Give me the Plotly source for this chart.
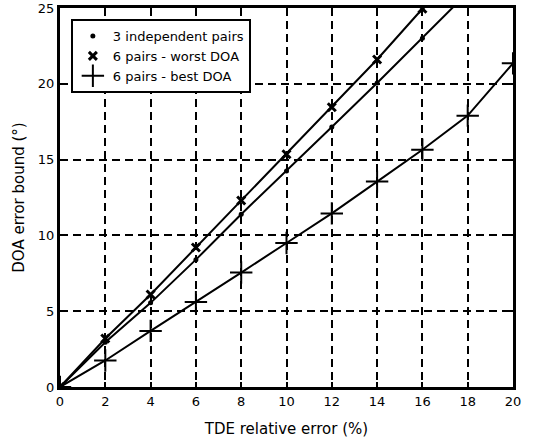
import plotly.graph_objects as go

x = [0, 2, 4, 6, 8, 10, 12, 14, 16, 18, 20]
three_pairs = [0, 2.95, 5.55, 8.4, 11.4, 14.25, 17.15, 20.05, 23.0, 26.0, 29.0]
worst_doa = [0, 3.2, 6.1, 9.2, 12.3, 15.35, 18.45, 21.6, 24.95, 28.3, 31.7]
best_doa = [0, 1.75, 3.7, 5.6, 7.55, 9.5, 11.45, 13.55, 15.65, 17.9, 21.35]

names = ["3 independent pairs", "6 pairs - worst DOA", "6 pairs - best DOA"]

x_ticks = [0, 2, 4, 6, 8, 10, 12, 14, 16, 18, 20]
y_ticks = [0, 5, 10, 15, 20, 25]

fam = "DejaVu Sans"
tick_font = dict(family=fam, size=13, color="black")
title_font = dict(family=fam, size=15, color="black")

markers = [
    dict(symbol="circle", size=5, color="black"),
    dict(symbol="x-thin", size=8, color="black", line=dict(width=3, color="black")),
    dict(symbol="cross-thin", size=16, color="black", line=dict(width=2, color="black")),
]

fig = go.Figure()
for name, ys in zip(names, [three_pairs, worst_doa, best_doa]):
    fig.add_trace(go.Scatter(
        x=x, y=ys, mode="lines", name=name, showlegend=False,
        line=dict(color="black", width=2),
    ))
for name, ys, mk in zip(names, [three_pairs, worst_doa, best_doa], markers):
    fig.add_trace(go.Scatter(
        x=x, y=ys, mode="markers", name=name,
        marker=mk,
    ))

axis_common = dict(
    showline=True, linecolor="black", linewidth=3, mirror="ticks",
    ticks="inside", ticklen=5, tickwidth=2, tickcolor="black",
    showgrid=True, gridcolor="black", gridwidth=2, griddash="8px,5px",
    zeroline=False, tickfont=tick_font, automargin=False,
)

fig.update_layout(
    width=541, height=441,
    margin=dict(l=60, r=28, t=8, b=54),
    paper_bgcolor="white", plot_bgcolor="white",
    font=tick_font,
    showlegend=True,
    legend=dict(
        x=0.024, y=0.971, xanchor="left", yanchor="top",
        bgcolor="white", bordercolor="black", borderwidth=2,
        font=dict(family=fam, size=13, color="black"),
        tracegroupgap=0, itemwidth=30,
    ),
    xaxis=dict(range=[0, 20], tickvals=x_ticks,
               title=dict(text="TDE relative error (%)", font=title_font, standoff=16),
               **axis_common),
    yaxis=dict(range=[0, 25], tickvals=y_ticks,
               title=dict(text="DOA error bound (°)", font=title_font, standoff=10),
               **axis_common),
)

fig.write_html("out.html")
